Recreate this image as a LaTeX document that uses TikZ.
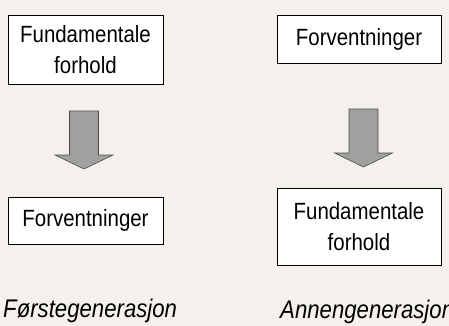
\documentclass[tikz,border=0pt]{standalone}
\usepackage{fontspec}
\setmainfont[FakeStretch=0.87]{Liberation Sans}
\definecolor{bg}{RGB}{244,241,236}
\definecolor{arrowgray}{RGB}{160,160,160}
\tikzset{
  box/.style={draw=black, fill=white, line width=0.8pt, align=center, inner sep=0pt},
  label/.style={font=\fontsize{25.5}{30}\selectfont\itshape, inner sep=0pt, anchor=base west}
}
\begin{document}
\begin{tikzpicture}[x=1pt, y=-1pt, font=\fontsize{23.5}{31.5}\selectfont]
                \fill[bg] (0, 0) rectangle (449, 326);
                \useasboundingbox (0, 0) rectangle (449, 326);
                % first generation
                \node[box, minimum width=155pt, minimum height=69pt] (fund1) at (85.5, 49.5) {Fundamentale\\forhold};
                \node[box, minimum width=155pt, minimum height=47pt] (forv1) at (85.5, 220.5) {Forventninger};
                \node[label] (gen1) at (3, 317) {Førstegenerasjon};
                % second generation
                \node[box, minimum width=164pt, minimum height=48pt] (forv2) at (359, 39) {Forventninger};
                \node[box, minimum width=164pt, minimum height=77pt] (fund2) at (359, 226.5) {Fundamentale\\forhold};
                \node[label] (gen2) at (280, 318) {Annengenerasjon};
                % arrows
                \foreach \x/\y in {84/111, 363.5/109}{
                    \filldraw[fill=arrowgray, draw=black!70, line width=0.6pt]
                        (\x-14.5, \y) -- (\x+14.5, \y) -- (\x+14.5, \y+44) -- (\x+29, \y+44)
                        -- (\x, \y+58) -- (\x-29, \y+44) -- (\x-14.5, \y+44) -- cycle;
                }
            \end{tikzpicture}
\end{document}
